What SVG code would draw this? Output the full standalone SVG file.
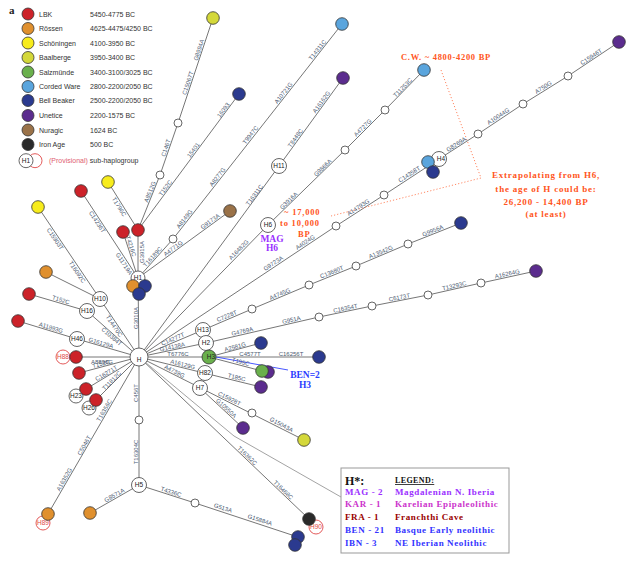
<svg xmlns="http://www.w3.org/2000/svg" width="640" height="562" viewBox="0 0 640 562">
<style>
.e{stroke:#666;stroke-width:.9;fill:none}
.lb{font-family:"Liberation Sans",Arial,sans-serif;font-size:6px;fill:#4b5a72;text-anchor:middle}
.n{stroke:#333;stroke-width:.8}
.w{fill:#fff;stroke:#555;stroke-width:.9}
.pv{fill:#fff;stroke:#e04848;stroke-width:.9}
.nt{font-family:"Liberation Sans",Arial,sans-serif;font-size:6.5px;fill:#222;text-anchor:middle}
.pt{fill:#e04848}
.lbk{fill:#cc2229}.ros{fill:#e0902e}.sch{fill:#f7ec1c}.baa{fill:#d4d83a}.sal{fill:#6ab04c}.cw{fill:#5aa5dd}.bb{fill:#2b3a8f}.une{fill:#5b2c8e}.nur{fill:#9a7248}.ira{fill:#2a2a2a}
.lg{font-family:"Liberation Sans",Arial,sans-serif;font-size:7px;fill:#333}
.sf{font-family:"Liberation Serif","Times New Roman",serif;font-weight:bold}
.or{fill:#ff5522}
</style>

<g id="legend">
<text x="9" y="14" class="sf" font-size="11" fill="#222">a</text>
<circle cx="28" cy="14" r="6" class="n lbk"/><text x="39" y="16.5" class="lg">LBK</text><text x="90" y="16.5" class="lg">5450-4775 BC</text>
<circle cx="28" cy="28.5" r="6" class="n ros"/><text x="39" y="31" class="lg">Rössen</text><text x="90" y="31" class="lg">4625-4475/4250 BC</text>
<circle cx="28" cy="43" r="6" class="n sch"/><text x="39" y="45.5" class="lg">Schöningen</text><text x="90" y="45.5" class="lg">4100-3950 BC</text>
<circle cx="28" cy="57.5" r="6" class="n baa"/><text x="39" y="60" class="lg">Baalberge</text><text x="90" y="60" class="lg">3950-3400 BC</text>
<circle cx="28" cy="72" r="6" class="n sal"/><text x="39" y="74.5" class="lg">Salzmünde</text><text x="90" y="74.5" class="lg">3400-3100/3025 BC</text>
<circle cx="28" cy="86.5" r="6" class="n cw"/><text x="39" y="89" class="lg">Corded Ware</text><text x="90" y="89" class="lg">2800-2200/2050 BC</text>
<circle cx="28" cy="100.5" r="6" class="n bb"/><text x="39" y="103" class="lg">Bell Beaker</text><text x="90" y="103" class="lg">2500-2200/2050 BC</text>
<circle cx="28" cy="115.5" r="6" class="n une"/><text x="39" y="118" class="lg">Unetice</text><text x="90" y="118" class="lg">2200-1575 BC</text>
<circle cx="28" cy="130" r="6" class="n nur"/><text x="39" y="132.5" class="lg">Nuragic</text><text x="90" y="132.5" class="lg">1624 BC</text>
<circle cx="28" cy="144.5" r="6" class="n ira"/><text x="39" y="147" class="lg">Iron Age</text><text x="90" y="147" class="lg">500 BC</text>
<circle cx="35" cy="160.7" r="7" fill="none" stroke="#e04848" stroke-width=".9"/>
<circle cx="26" cy="160.7" r="7" class="w"/><text x="26" y="163" class="nt">H1</text>
<text x="49" y="163" class="lg"><tspan fill="#e06070">(Provisional)</tspan> sub-haplogroup</text>
</g>

<g id="connectors">
<g class="e">
<line x1="139" y1="357" x2="138" y2="278"/>
<line x1="138" y1="278" x2="138" y2="230"/>
<line x1="123" y1="232" x2="138" y2="278"/>
<line x1="81" y1="191" x2="138" y2="278"/>
<line x1="108" y1="182" x2="138" y2="230"/>
<line x1="138" y1="230" x2="160" y2="175"/>
<line x1="160" y1="175" x2="178" y2="123"/>
<line x1="178" y1="123" x2="213" y2="18"/>
<line x1="138" y1="230" x2="239" y2="94"/>
<line x1="138" y1="278" x2="173" y2="239"/>
<line x1="173" y1="239" x2="342" y2="24"/>
<line x1="138" y1="278" x2="230" y2="211"/>
<line x1="139" y1="357" x2="279" y2="166"/>
<line x1="279" y1="166" x2="343" y2="78"/>
<line x1="139" y1="357" x2="268" y2="225"/>
<line x1="268" y1="225" x2="345" y2="150"/>
<line x1="345" y1="150" x2="385" y2="110"/>
<line x1="385" y1="110" x2="424" y2="70"/>
<line x1="139" y1="357" x2="336" y2="226"/>
<line x1="336" y1="226" x2="384" y2="195"/>
<line x1="384" y1="195" x2="439" y2="159"/>
<line x1="439" y1="159" x2="478" y2="134"/>
<line x1="478" y1="134" x2="523" y2="104"/>
<line x1="523" y1="104" x2="568" y2="76"/>
<line x1="568" y1="76" x2="619" y2="42"/>
<line x1="139" y1="357" x2="203" y2="330"/>
<line x1="203" y1="330" x2="252" y2="309"/>
<line x1="252" y1="309" x2="309" y2="285"/>
<line x1="309" y1="285" x2="356" y2="266"/>
<line x1="356" y1="266" x2="408" y2="244"/>
<line x1="408" y1="244" x2="461" y2="223"/>
<line x1="139" y1="357" x2="206" y2="343"/>
<line x1="206" y1="343" x2="319" y2="317"/>
<line x1="319" y1="317" x2="372" y2="306"/>
<line x1="372" y1="306" x2="428" y2="295"/>
<line x1="428" y1="295" x2="481" y2="283"/>
<line x1="481" y1="283" x2="536" y2="271"/>
<line x1="139" y1="357" x2="319" y2="357"/>
<line x1="209" y1="357" x2="261" y2="343"/>
<line x1="209" y1="357" x2="262" y2="371"/>
<line x1="139" y1="357" x2="261" y2="387"/>
<line x1="139" y1="357" x2="304" y2="440"/>
<line x1="200" y1="388" x2="243" y2="428"/>
<line x1="139" y1="357" x2="309" y2="519"/>
<line x1="139" y1="357" x2="139" y2="485"/>
<line x1="139" y1="485" x2="90" y2="513"/>
<line x1="139" y1="485" x2="195" y2="503"/>
<line x1="195" y1="503" x2="298" y2="537"/>
<line x1="139" y1="357" x2="48" y2="514"/>
<line x1="139" y1="357" x2="96" y2="400"/>
<line x1="139" y1="357" x2="86" y2="389"/>
<line x1="139" y1="357" x2="79" y2="373"/>
<line x1="139" y1="357" x2="76" y2="357"/>
<line x1="139" y1="357" x2="77" y2="339"/>
<line x1="18" y1="321" x2="77" y2="339"/>
<line x1="139" y1="357" x2="87" y2="311"/>
<line x1="139" y1="357" x2="100" y2="299"/>
<line x1="38" y1="207" x2="100" y2="299"/>
<line x1="46" y1="272" x2="100" y2="299"/>
<line x1="29" y1="294" x2="87" y2="311"/>
</g>
<polyline points="139,357 234,436 341,497" fill="none" stroke="#999" stroke-width=".9"/>
<line x1="216" y1="357" x2="288" y2="370" stroke="#3344ff" stroke-width=".9"/>
<polyline points="441,70 481,178 331,216" fill="none" stroke="#ff8a66" stroke-width="1" stroke-dasharray="1.2,2"/>

<g id="labels">
<text class="lb" transform="translate(139 318) rotate(-90)" y="-1.2">G3010A</text>
<text class="lb" transform="translate(138 252) rotate(-90)" y="5.5">G3915A</text>
<text class="lb" transform="translate(128 247) rotate(72)" y="-1.2">T4216C</text>
<text class="lb" transform="translate(100 220) rotate(56.8)" y="5.5">C14236T</text>
<text class="lb" transform="translate(127 262) rotate(56.8)" y="5.5">G11719A</text>
<text class="lb" transform="translate(122 205) rotate(58)" y="5.5">T1796C</text>
<text class="lb" transform="translate(153 193) rotate(-68)" y="-1.2">A8512G</text>
<text class="lb" transform="translate(169 149) rotate(-71)" y="-1.2">C146T</text>
<text class="lb" transform="translate(191 84) rotate(-71.6)" y="-1.2">C15067T</text>
<text class="lb" transform="translate(202 51) rotate(-71.6)" y="-1.2">G8994A</text>
<text class="lb" transform="translate(168 190) rotate(-53.4)" y="-1.2">T152C</text>
<text class="lb" transform="translate(196 152) rotate(-53.4)" y="-1.2">15401</text>
<text class="lb" transform="translate(226 112) rotate(-53.4)" y="-1.2">16093</text>
<text class="lb" transform="translate(155 259) rotate(-48)" y="-1.2">T16189C</text>
<text class="lb" transform="translate(187 221) rotate(-51.8)" y="-1.2">A8149G</text>
<text class="lb" transform="translate(220 179) rotate(-51.8)" y="-1.2">A8277G</text>
<text class="lb" transform="translate(253 137) rotate(-51.8)" y="-1.2">T9947C</text>
<text class="lb" transform="translate(286 95) rotate(-51.8)" y="-1.2">A10721G</text>
<text class="lb" transform="translate(320 52) rotate(-51.8)" y="-1.2">T14311C</text>
<text class="lb" transform="translate(175 251) rotate(-36)" y="-1.2">A4771G</text>
<text class="lb" transform="translate(212 224) rotate(-36)" y="-1.2">G9173A</text>
<text class="lb" transform="translate(257 197) rotate(-53.5)" y="-1.2">T16311C</text>
<text class="lb" transform="translate(298 140) rotate(-54)" y="-1.2">T8448C</text>
<text class="lb" transform="translate(324 104) rotate(-54)" y="-1.2">A16162G</text>
<text class="lb" transform="translate(241 252) rotate(-45.6)" y="-1.2">A16482G</text>
<text class="lb" transform="translate(291 203) rotate(-44.2)" y="-1.2">G3916A</text>
<text class="lb" transform="translate(325 170) rotate(-44.2)" y="-1.2">G9866A</text>
<text class="lb" transform="translate(365 130) rotate(-45)" y="-1.2">A4727G</text>
<text class="lb" transform="translate(405 90) rotate(-45.7)" y="-1.2">T11253C</text>
<text class="lb" transform="translate(275 266) rotate(-33.6)" y="-1.2">G9723A</text>
<text class="lb" transform="translate(307 245) rotate(-33.6)" y="-1.2">A4024G</text>
<text class="lb" transform="translate(360 210) rotate(-33)" y="-1.2">A14793G</text>
<text class="lb" transform="translate(411 177) rotate(-33)" y="-1.2">C14358T</text>
<text class="lb" transform="translate(458 147) rotate(-33)" y="-1.2">G8269A</text>
<text class="lb" transform="translate(500 119) rotate(-33.7)" y="-1.2">A10044G</text>
<text class="lb" transform="translate(545 90) rotate(-31.9)" y="-1.2">A750G</text>
<text class="lb" transform="translate(593 59.5) rotate(-33.7)" y="-1.2">C15946T</text>
<text class="lb" transform="translate(174 342) rotate(-22.9)" y="-1.2">C14277T</text>
<text class="lb" transform="translate(228 319) rotate(-23)" y="-1.2">C7228T</text>
<text class="lb" transform="translate(281 297) rotate(-22.8)" y="-1.2">A4745G</text>
<text class="lb" transform="translate(333 275) rotate(-22)" y="-1.2">C13680T</text>
<text class="lb" transform="translate(382 255) rotate(-22.9)" y="-1.2">A13542G</text>
<text class="lb" transform="translate(434 233.7) rotate(-21.6)" y="-1.2">G9956A</text>
<text class="lb" transform="translate(173 350) rotate(-11.8)" y="-1.2">G14138A</text>
<text class="lb" transform="translate(243 334.5) rotate(-13)" y="-1.2">G4769A</text>
<text class="lb" transform="translate(292 323) rotate(-13)" y="-1.2">G951A</text>
<text class="lb" transform="translate(346 311.4) rotate(-11.7)" y="-1.2">C16354T</text>
<text class="lb" transform="translate(400 300.5) rotate(-11.1)" y="-1.2">C6173T</text>
<text class="lb" transform="translate(455 289) rotate(-12.8)" y="-1.2">T13293C</text>
<text class="lb" transform="translate(508 277) rotate(-12.3)" y="-1.2">A16264G</text>
<text class="lb" x="178" y="355.8">T6776C</text>
<text class="lb" x="250" y="355.8">C4577T</text>
<text class="lb" x="291" y="355.8">C16256T</text>
<text class="lb" transform="translate(236 350) rotate(-15)" y="-1.2">A2581G</text>
<text class="lb" transform="translate(240 365) rotate(14.8)" y="-1.2">T195C</text>
<text class="lb" transform="translate(182 367.5) rotate(13.6)" y="-1.2">A16129G</text>
<text class="lb" transform="translate(236 380.5) rotate(13.2)" y="-1.2">T185C</text>
<text class="lb" transform="translate(173 374.3) rotate(26.9)" y="-1.2">A4739G</text>
<text class="lb" transform="translate(228 401.5) rotate(26.5)" y="-1.2">C15928T</text>
<text class="lb" transform="translate(280 427.5) rotate(27.4)" y="-1.2">G15043A</text>
<text class="lb" transform="translate(224 410.5) rotate(42.9)" y="-1.2">G10550A</text>
<text class="lb" transform="translate(245 458) rotate(43.6)" y="-1.2">T16362C</text>
<text class="lb" transform="translate(281 492.4) rotate(43.6)" y="-1.2">T16468C</text>
<text class="lb" transform="translate(139 393) rotate(-90)" y="-1.2">C456T</text>
<text class="lb" transform="translate(139 452) rotate(-90)" y="-1.2">T16304C</text>
<text class="lb" transform="translate(116 498) rotate(-29.7)" y="-1.2">G8571A</text>
<text class="lb" transform="translate(170 495) rotate(17.8)" y="-1.2">T4336C</text>
<text class="lb" transform="translate(222 511) rotate(18.3)" y="-1.2">G513A</text>
<text class="lb" transform="translate(259 523) rotate(18.3)" y="-1.2">G15884A</text>
<text class="lb" transform="translate(67 481) rotate(-60)" y="-1.2">A16352G</text>
<text class="lb" transform="translate(87 447) rotate(-60)" y="-1.2">C5046T</text>
<text class="lb" transform="translate(107 412) rotate(-60)" y="-1.2">T16356C</text>
<text class="lb" transform="translate(114 383) rotate(-45.7)" y="-1.2">T11812C</text>
<text class="lb" transform="translate(108 376) rotate(-31.1)" y="-1.2">C16271T</text>
<text class="lb" transform="translate(102 367) rotate(-14.9)" y="-1.2">T152C</text>
<text class="lb" x="102" y="363.5">A8896G</text>
<text class="lb" transform="translate(100 346) rotate(16.2)" y="-1.2">G16129A</text>
<text class="lb" transform="translate(114 334) rotate(41)" y="5.5">C10384T</text>
<text class="lb" transform="translate(117 324) rotate(56)" y="5.5">T14470C</text>
<text class="lb" transform="translate(58 237) rotate(56)" y="5.5">C15903T</text>
<text class="lb" transform="translate(80 270) rotate(56)" y="5.5">T16092C</text>
<text class="lb" transform="translate(60 303) rotate(16.3)" y="-1.2">T152C</text>
<text class="lb" transform="translate(50 330.7) rotate(17)" y="-1.2">A11893G</text>
</g>
</g>

<g id="n-H1">
<circle cx="138" cy="278" r="7" class="w"/><text x="138" y="280" class="nt">H1</text>
<circle cx="133" cy="286" r="6.3" class="n ros"/>
<circle cx="145" cy="286" r="6.3" class="n bb"/>
<circle cx="139" cy="294" r="6.3" class="n bb"/>
</g>
<g id="n-R1"><circle cx="138" cy="230" r="6.3" class="n lbk"/></g>
<g id="n-R2"><circle cx="123" cy="232" r="6.3" class="n lbk"/></g>
<g id="n-R3"><circle cx="81" cy="191" r="6.3" class="n lbk"/></g>
<g id="n-Y1"><circle cx="108" cy="182" r="6.3" class="n sch"/></g>
<g id="n-W1"><circle cx="160" cy="175" r="4" class="w"/></g>
<g id="n-W2"><circle cx="178" cy="123" r="4" class="w"/></g>
<g id="n-B1"><circle cx="213" cy="18" r="6.3" class="n baa"/></g>
<g id="n-DB1"><circle cx="239" cy="94" r="6.3" class="n bb"/></g>
<g id="n-W3"><circle cx="173" cy="239" r="4" class="w"/></g>
<g id="n-CW1"><circle cx="342" cy="24" r="6.3" class="n cw"/></g>
<g id="n-N1"><circle cx="230" cy="211" r="6.3" class="n nur"/></g>
<g id="n-H11"><circle cx="279" cy="166" r="7.5" class="w"/><text x="279" y="168.3" class="nt">H11</text></g>
<g id="n-P1"><circle cx="343" cy="78" r="6.3" class="n une"/></g>
<g id="n-H6"><circle cx="268" cy="225" r="7.5" class="w"/><text x="268" y="227.3" class="nt">H6</text></g>
<g id="n-W7"><circle cx="345" cy="150" r="4" class="w"/></g>
<g id="n-W8"><circle cx="385" cy="110" r="4" class="w"/></g>
<g id="n-CW2"><circle cx="424" cy="70" r="6.3" class="n cw"/></g>
<g id="n-W9"><circle cx="336" cy="226" r="4" class="w"/></g>
<g id="n-W10"><circle cx="384" cy="195" r="4" class="w"/></g>
<g id="n-H4">
<circle cx="439" cy="159" r="7.5" class="w"/><text x="441" y="161.3" class="nt">H4</text>
<circle cx="428" cy="162" r="6.3" class="n cw"/>
<circle cx="433" cy="172" r="6.3" class="n bb"/>
</g>
<g id="n-W11"><circle cx="478" cy="134" r="4" class="w"/></g>
<g id="n-W12"><circle cx="523" cy="104" r="4" class="w"/></g>
<g id="n-W13"><circle cx="568" cy="76" r="4" class="w"/></g>
<g id="n-P4"><circle cx="619" cy="42" r="6.3" class="n une"/></g>
<g id="n-H13"><circle cx="203" cy="330" r="7.5" class="w"/><text x="203" y="332.3" class="nt">H13</text></g>
<g id="n-W14"><circle cx="252" cy="309" r="4" class="w"/></g>
<g id="n-W15"><circle cx="309" cy="285" r="4" class="w"/></g>
<g id="n-W16"><circle cx="356" cy="266" r="4" class="w"/></g>
<g id="n-W17"><circle cx="408" cy="244" r="4" class="w"/></g>
<g id="n-DB2"><circle cx="461" cy="223" r="6.3" class="n bb"/></g>
<g id="n-H2"><circle cx="206" cy="343" r="7.5" class="w"/><text x="206" y="345.3" class="nt">H2</text></g>
<g id="n-W18"><circle cx="319" cy="317" r="4" class="w"/></g>
<g id="n-W19"><circle cx="372" cy="306" r="4" class="w"/></g>
<g id="n-W20"><circle cx="428" cy="295" r="4" class="w"/></g>
<g id="n-W21"><circle cx="481" cy="283" r="4" class="w"/></g>
<g id="n-P5"><circle cx="536" cy="271" r="6.3" class="n une"/></g>
<g id="n-H3"><circle cx="209" cy="357" r="7" class="n sal"/><text x="211" y="359.3" class="nt">H3</text></g>
<g id="n-DB3"><circle cx="319" cy="357" r="6.3" class="n bb"/></g>
<g id="n-DB4"><circle cx="261" cy="343" r="6.3" class="n bb"/></g>
<g id="n-GP"><circle cx="268" cy="372" r="6.3" class="n une"/><circle cx="262" cy="371" r="6.3" class="n sal"/></g>
<g id="n-H82"><circle cx="205" cy="373" r="7.5" class="w"/><text x="205" y="375.3" class="nt">H82</text></g>
<g id="n-P2"><circle cx="261" cy="387" r="6.3" class="n une"/></g>
<g id="n-H7"><circle cx="200" cy="388" r="7.5" class="w"/><text x="200" y="390.3" class="nt">H7</text></g>
<g id="n-W6"><circle cx="252" cy="413" r="4" class="w"/></g>
<g id="n-B2"><circle cx="304" cy="440" r="6.3" class="n baa"/></g>
<g id="n-P3"><circle cx="243" cy="428" r="6.3" class="n une"/></g>
<g id="n-H90"><circle cx="316" cy="527" r="7" class="pv"/><text x="316" y="529.3" class="nt pt" font-size="5.5">H90</text><circle cx="309" cy="519" r="6.3" class="n ira"/></g>
<g id="n-W4"><circle cx="139" cy="420" r="4" class="w"/></g>
<g id="n-H5"><circle cx="139" cy="485" r="7.5" class="w"/><text x="139" y="487.3" class="nt">H5</text></g>
<g id="n-O3"><circle cx="90" cy="513" r="6.3" class="n ros"/></g>
<g id="n-W5"><circle cx="195" cy="503" r="4" class="w"/></g>
<g id="n-DB5"><circle cx="298" cy="537" r="6.3" class="n bb"/><circle cx="295" cy="545" r="6.3" class="n bb"/></g>
<g id="n-H89"><circle cx="43" cy="523" r="7" class="pv"/><text x="43" y="525.3" class="nt pt" font-size="5.5">H89</text><circle cx="48" cy="514" r="6.3" class="n ros"/></g>
<g id="n-H26"><circle cx="89" cy="408" r="7" class="w"/><text x="89" y="410.3" class="nt">H26</text><circle cx="96" cy="400" r="6.3" class="n lbk"/></g>
<g id="n-H23"><circle cx="76" cy="396" r="7" class="w"/><text x="76" y="398.3" class="nt">H23</text><circle cx="86" cy="389" r="6.3" class="n lbk"/></g>
<g id="n-R7"><circle cx="79" cy="373" r="6.3" class="n lbk"/></g>
<g id="n-H88"><circle cx="63" cy="357" r="7" class="pv"/><text x="63" y="359.3" class="nt pt">H88</text><circle cx="76" cy="357" r="6.3" class="n lbk"/></g>
<g id="n-H46"><circle cx="77" cy="339" r="7.5" class="w"/><text x="77" y="341.3" class="nt">H46</text></g>
<g id="n-R5"><circle cx="18" cy="321" r="6.3" class="n lbk"/></g>
<g id="n-H16"><circle cx="87" cy="311" r="7.5" class="w"/><text x="87" y="313.3" class="nt">H16</text></g>
<g id="n-H10"><circle cx="100" cy="299" r="7.5" class="w"/><text x="100" y="301.3" class="nt">H10</text></g>
<g id="n-Y2"><circle cx="38" cy="207" r="6.3" class="n sch"/></g>
<g id="n-O1"><circle cx="46" cy="272" r="6.3" class="n ros"/></g>
<g id="n-R4"><circle cx="29" cy="294" r="6.3" class="n lbk"/></g>
<g id="n-H"><circle cx="139" cy="357" r="9" class="w"/><text x="139" y="361.5" class="nt" font-size="12">H</text></g>

<g id="annotations">
<text x="401" y="60" class="sf or" font-size="8.5" letter-spacing=".7">C.W. ~ 4800-4200 BP</text>
<g class="sf or" font-size="9" text-anchor="middle" letter-spacing=".8">
<text x="546" y="178">Extrapolating from H6,</text>
<text x="546" y="191.5">the age of H could be:</text>
<text x="546" y="205">26,200 - 14,400 BP</text>
<text x="546" y="216.5">(at least)</text>
</g>
<g class="sf or" font-size="8.5" letter-spacing=".8">
<text x="284" y="214.5">~ 17,000</text>
<text x="280" y="226">to 10,000</text>
<text x="298" y="237">BP</text>
</g>
<g class="sf" font-size="9.5" fill="#9b30ff" text-anchor="middle">
<text x="272" y="241.5">MAG</text><text x="272" y="250.5">H6</text>
</g>
<g class="sf" font-size="9.5" fill="#2a3cff" text-anchor="middle">
<text x="305" y="378">BEN=2</text><text x="305" y="387.5">H3</text>
</g>
</g>

<g id="hstar-legend">
<rect x="341" y="468" width="168" height="85" fill="#fff" stroke="#999" stroke-width="1"/>
<text x="345" y="485" class="sf" font-size="12" fill="#111">H*:</text>
<text x="395" y="483" class="sf" font-size="8" fill="#111" text-decoration="underline" letter-spacing=".4">LEGEND:</text>
<g class="sf" font-size="9" letter-spacing=".6">
<text x="345" y="495" fill="#9b30ff">MAG - 2</text><text x="395" y="495" fill="#9b30ff">Magdalenian N. Iberia</text>
<text x="345" y="506.5" fill="#cc33cc">KAR - 1</text><text x="395" y="506.5" fill="#cc33cc">Karelian Epipaleolithic</text>
<text x="345" y="520" fill="#990000">FRA - 1</text><text x="395" y="520" fill="#990000">Franchthi Cave</text>
<text x="345" y="533" fill="#3333ff">BEN - 21</text><text x="395" y="533" fill="#3333ff">Basque Early neolithic</text>
<text x="345" y="546" fill="#3333ff">IBN - 3</text><text x="395" y="546" fill="#3333ff">NE Iberian Neolithic</text>
</g>
</g>
</svg>
